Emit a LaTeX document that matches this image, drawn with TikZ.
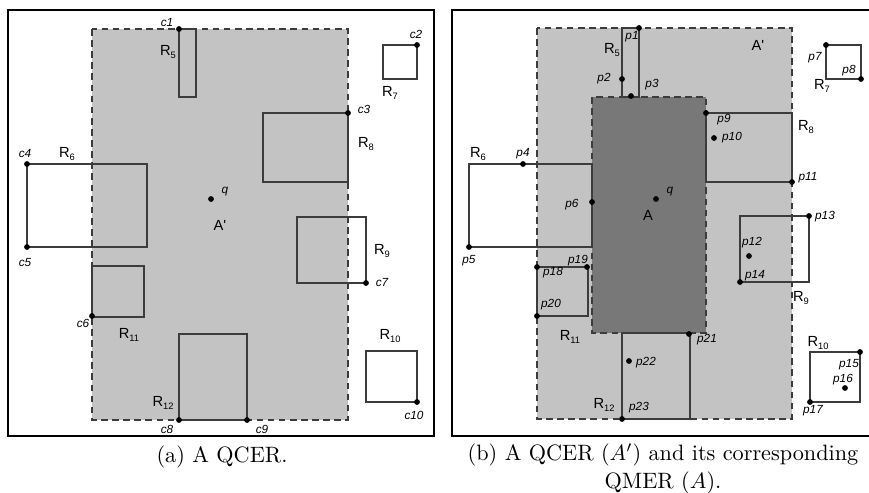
\documentclass[tikz,border=0pt]{standalone}
\usepackage{fontspec}
\newfontfamily\labelfont{Liberation Sans}
\usetikzlibrary{positioning}

\definecolor{qcergray}{HTML}{C3C3C3}
\definecolor{qmergray}{HTML}{787878}
\definecolor{edgegray}{HTML}{3C3C3C}

\newcommand{\rsub}[2]{#1\raisebox{-0.45ex}{\fontsize{4.2}{5}\selectfont #2}}

\tikzset{
  frame/.style={draw=black, line width=0.75pt},
  qcer/.style={draw=edgegray, dashed, dash pattern=on 3pt off 2pt, fill=qcergray, line width=0.5pt},
  qmer/.style={draw=edgegray, dashed, dash pattern=on 3pt off 2pt, fill=qmergray, line width=0.5pt},
  objrect/.style={draw=edgegray, line width=0.5pt},
  dot/.style={circle, fill=black, inner sep=0pt, minimum size=2.6pt},
  ptlabel/.style={font=\labelfont\itshape\fontsize{5.3}{6}\selectfont, inner sep=0pt},
  rlabel/.style={font=\labelfont\fontsize{6.6}{7}\selectfont, inner sep=0pt},
  caption/.style={font=\fontsize{10}{12.5}\selectfont, align=center, inner sep=0pt}
}

\begin{document}
\begin{tikzpicture}[x=0.45pt, y=-0.45pt]
    \useasboundingbox (0,0) rectangle (869,493);
    % =================================================================
    % 1. HINH (a): QCER A'
    % =================================================================
    \draw[frame] (8,10) rectangle (434,436);
    \draw[qcer] (92,29) rectangle (348,420);
    % Cac hinh chu nhat R5 .. R12
    \draw[objrect] (179,29) rectangle (196,97);
    \draw[objrect] (383,45) rectangle (417,79);
    \draw[objrect] (263,113) rectangle (348,182);
    \draw[objrect] (27,164) rectangle (147,247);
    \draw[objrect] (297,217) rectangle (366,283);
    \draw[objrect] (92,266) rectangle (144,317);
    \draw[objrect] (179,334) rectangle (247,420);
    \draw[objrect] (366,351) rectangle (417,402);
    % Cac dinh c1 .. c10 va diem q
    \node[dot] (c1) at (179,29) {};
    \node[dot] (c2) at (417,45) {};
    \node[dot] (c3) at (348,113) {};
    \node[dot] (c4) at (27,164) {};
    \node[dot] (c5) at (27,247) {};
    \node[dot] (c6) at (92,316) {};
    \node[dot] (c7) at (366,283) {};
    \node[dot] (c8) at (179,420) {};
    \node[dot] (c9) at (247,420) {};
    \node[dot] (c10) at (417,402) {};
    \node[dot] (qa) at (211,199) {};
    % Nhan
    \node[ptlabel] (lc1) at (167,23) {c1};
    \node[ptlabel] (lc2) at (416,34) {c2};
    \node[ptlabel] (lc3) at (364,109) {c3};
    \node[ptlabel] (lc4) at (25,154) {c4};
    \node[ptlabel] (lc5) at (25,263) {c5};
    \node[ptlabel] (lc6) at (83,323) {c6};
    \node[ptlabel] (lc7) at (382,283) {c7};
    \node[ptlabel] (lc8) at (167,429) {c8};
    \node[ptlabel] (lc9) at (262,429) {c9};
    \node[ptlabel] (lc10) at (414,415) {c10};
    \node[ptlabel] (lqa) at (225,192) {q};
    \node[rlabel] (ar5) at (168,52) {\rsub{R}{5}};
    \node[rlabel] (ar7) at (390,93) {\rsub{R}{7}};
    \node[rlabel] (ar8) at (366,144) {\rsub{R}{8}};
    \node[rlabel] (ar6) at (67,154) {\rsub{R}{6}};
    \node[rlabel] (ar9) at (382,251) {\rsub{R}{9}};
    \node[rlabel] (ar11) at (129,335) {\rsub{R}{11}};
    \node[rlabel] (ar12) at (163,403) {\rsub{R}{12}};
    \node[rlabel] (ar10) at (390,336) {\rsub{R}{10}};
    \node[rlabel] (aA) at (220,225) {A'};
    \node[caption] (capa) at (222,457) {(a) A QCER.};

    % =================================================================
    % 2. HINH (b): QCER A' va QMER A
    % =================================================================
    \draw[frame] (870,10) -- (452,10) -- (452,436) -- (870,436);
    \draw[qcer] (537,28) rectangle (792,419);
    \draw[qmer] (592,97) rectangle (706,333);
    % Cac hinh chu nhat R5 .. R12
    \draw[objrect] (622,28) rectangle (639,97);
    \draw[objrect] (826,45) rectangle (861,79);
    \draw[objrect] (706,113) rectangle (792,182);
    \draw[objrect] (469,164) rectangle (592,247);
    \draw[objrect] (740,216) rectangle (809,282);
    \draw[objrect] (537,267) rectangle (588,316);
    \draw[objrect] (622,333) rectangle (690,419);
    \draw[objrect] (810,352) rectangle (860,402);
    % Cac diem p1 .. p23 va diem q
    \node[dot] (p1) at (639,28) {};
    \node[dot] (p2) at (622,79) {};
    \node[dot] (p3) at (631,96) {};
    \node[dot] (p4) at (523,164) {};
    \node[dot] (p5) at (469,247) {};
    \node[dot] (p6) at (592,202) {};
    \node[dot] (p7) at (826,45) {};
    \node[dot] (p8) at (861,79) {};
    \node[dot] (p9) at (706,113) {};
    \node[dot] (p10) at (714,138) {};
    \node[dot] (p11) at (792,182) {};
    \node[dot] (p12) at (749,256) {};
    \node[dot] (p13) at (809,216) {};
    \node[dot] (p14) at (740,282) {};
    \node[dot] (p15) at (860,352) {};
    \node[dot] (p16) at (845,388) {};
    \node[dot] (p17) at (810,402) {};
    \node[dot] (p18) at (537,267) {};
    \node[dot] (p19) at (587,267) {};
    \node[dot] (p20) at (537,316) {};
    \node[dot] (p21) at (689,334) {};
    \node[dot] (p22) at (629,361) {};
    \node[dot] (p23) at (622,419) {};
    \node[dot] (qb) at (656,199) {};
    % Nhan
    \node[ptlabel] (lp1) at (632,37) {p1};
    \node[ptlabel] (lp2) at (604,79) {p2};
    \node[ptlabel] (lp3) at (652,85) {p3};
    \node[ptlabel] (lp4) at (523,154) {p4};
    \node[ptlabel] (lp5) at (469,261) {p5};
    \node[ptlabel] (lp6) at (572,205) {p6};
    \node[ptlabel] (lp7) at (815,58) {p7};
    \node[ptlabel] (lp8) at (849,71) {p8};
    \node[ptlabel] (lp9) at (724,120) {p9};
    \node[ptlabel] (lp10) at (732,138) {p10};
    \node[ptlabel] (lp11) at (808,178) {p11};
    \node[ptlabel] (lp12) at (752,243) {p12};
    \node[ptlabel] (lp13) at (825,217) {p13};
    \node[ptlabel] (lp14) at (755,276) {p14};
    \node[ptlabel] (lp15) at (849,365) {p15};
    \node[ptlabel] (lp16) at (843,380) {p16};
    \node[ptlabel] (lp17) at (813,411) {p17};
    \node[ptlabel] (lp18) at (553,273) {p18};
    \node[ptlabel] (lp19) at (578,261) {p19};
    \node[ptlabel] (lp20) at (551,305) {p20};
    \node[ptlabel] (lp21) at (707,340) {p21};
    \node[ptlabel] (lp22) at (646,363) {p22};
    \node[ptlabel] (lp23) at (639,408) {p23};
    \node[ptlabel] (lqb) at (670,192) {q};
    \node[rlabel] (br5) at (612,50) {\rsub{R}{5}};
    \node[rlabel] (br7) at (822,86) {\rsub{R}{7}};
    \node[rlabel] (br8) at (806,127) {\rsub{R}{8}};
    \node[rlabel] (br6) at (478,154) {\rsub{R}{6}};
    \node[rlabel] (br9) at (801,298) {\rsub{R}{9}};
    \node[rlabel] (br11) at (570,337) {\rsub{R}{11}};
    \node[rlabel] (br12) at (604,405) {\rsub{R}{12}};
    \node[rlabel] (br10) at (818,343) {\rsub{R}{10}};
    \node[rlabel] (bAp) at (758,45) {A'};
    \node[rlabel] (bA) at (648,215) {A};
    \node[caption] (capb) at (663,469) {(b) A QCER ($A'$) and its corresponding\\QMER ($A$).};
\end{tikzpicture}
\end{document}
